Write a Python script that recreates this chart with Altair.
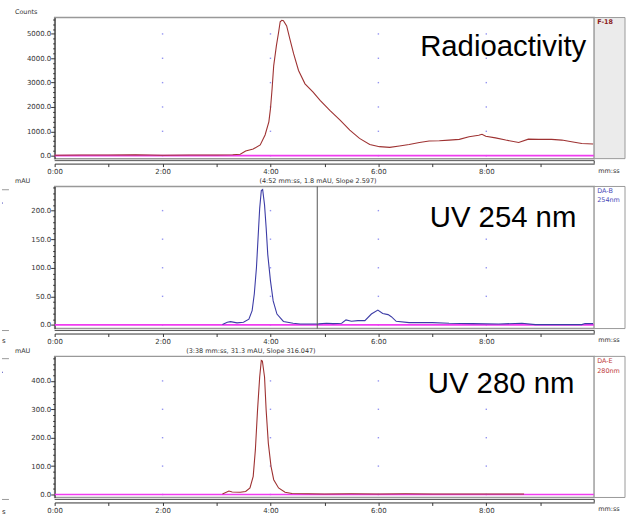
import altair as alt
import pandas as pd

FONT = "DejaVu Sans"
W = 543
H1, H2, H3 = 142, 143, 142

# ---------------- data (time in minutes) ----------------
rad_t = [0.0, 0.5, 1.0, 1.5, 2.0, 2.5, 3.0, 3.3, 3.44, 3.54, 3.68, 3.81, 3.90, 3.97, 4.00, 4.03,
         4.06, 4.11, 4.15, 4.18, 4.21, 4.24, 4.30, 4.36, 4.43, 4.52, 4.64, 4.79, 4.92, 5.10, 5.29,
         5.47, 5.65, 5.84, 6.02, 6.21, 6.39, 6.57, 6.76, 6.94, 7.13, 7.31, 7.50, 7.68, 7.86, 7.92,
         7.99, 8.17, 8.36, 8.60, 8.78, 8.97, 9.21, 9.40, 9.58, 9.77, 9.98]
rad_v = [20, 30, 25, 35, 20, 30, 25, 40, 60, 190, 270, 440, 850, 1390, 1930, 2750,
         3700, 4520, 5060, 5500, 5560, 5540, 5330, 4790, 4180, 3500, 2950, 2610, 2270, 1860, 1460,
         1050, 710, 460, 370, 340, 400, 460, 540, 600, 610, 640, 670, 780, 840, 880,
         800, 730, 640, 540, 680, 670, 670, 640, 570, 500, 480]

uv254_t = [3.11, 3.20, 3.26, 3.38, 3.50, 3.60, 3.66, 3.70, 3.74, 3.77, 3.80, 3.83, 3.855, 3.89,
           3.92, 3.95, 4.00, 4.05, 4.12, 4.24, 4.42, 4.55, 4.89, 5.04, 5.16, 5.32, 5.40, 5.50,
           5.62, 5.75, 5.87, 5.99, 6.08, 6.18, 6.24, 6.33, 6.57, 7.00, 7.31, 7.74, 8.23, 8.66,
           8.91, 9.77, 9.83, 9.98]
uv254_v = [0.5, 4.5, 5.7, 3.5, 4.5, 10, 25, 54, 100, 152, 204, 235, 237, 210,
           170, 123, 77, 42, 19, 6, 3, 1.5, 1.8, 2.8, 2.3, 2.8, 8.7, 6.3,
           7.5, 7.5, 19, 26, 20, 18, 14.4, 6.3, 4, 4, 2.8, 2.3, 1.7, 2.8,
           0.5, 0.5, 2.3, 2.3]

uv280_t = [3.11, 3.23, 3.29, 3.44, 3.54, 3.62, 3.68, 3.72, 3.76, 3.80, 3.83, 3.85, 3.89, 3.92,
           3.96, 4.01, 4.06, 4.15, 4.27, 4.40, 5.0, 5.5, 6.0, 6.5, 7.0, 7.5, 8.0, 8.4, 8.7]
uv280_v = [2, 12, 9, 8, 10.5, 23, 64, 157, 297, 414, 472, 470, 414, 297,
           181, 99, 52, 23, 8, 3.5, 2, 2.5, 2, 2.5, 2, 1.5, 1.5, 2, 1.5]

cursor_t = [4.867]          # 4:52 mm:ss
x_ticks = list(range(10))
grid_x = [2, 4, 6, 8]
grid_y1 = [0, 1000, 2000, 3000, 4000, 5000]
grid_y2 = [0, 50, 100, 150, 200]
grid_y3 = [0, 100, 200, 300, 400]

RED = "#9e3232"
BLUE = "#3c3ca6"
MAGENTA = "#f03cf0"
DOT = "#8a8af0"
AX = "#333333"

dummy = pd.DataFrame({"d": [0]})


def xenc():
    return alt.X("t:Q", scale=alt.Scale(domain=[0, 10], nice=False, zero=False),
                 axis=alt.Axis(values=x_ticks,
                               labelExpr="datum.value % 2 == 0 ? floor(datum.value) + ':00' : ''",
                               title=None, offset=5, grid=False, domainColor=AX, tickColor=AX,
                               tickSize=3, labelFont=FONT, labelFontSize=7, labelColor=AX,
                               labelPadding=1, labelFlush=False))


def yenc(dom, vals, major):
    return alt.Y("v:Q", scale=alt.Scale(domain=dom, nice=False, zero=False),
                 axis=alt.Axis(values=vals,
                               labelExpr=f"datum.value % {major} == 0 ? format(datum.value, '.1f') : ''",
                               tickSize={"condition": {"test": f"datum.value % {major} == 0", "value": 4}, "value": 2},
                               title=None, grid=False, domainColor=AX, tickColor=AX,
                               labelFont=FONT, labelFontSize=7, labelColor=AX, labelPadding=0,
                               labelFlush=False, labelOverlap=False))


def txt(s, x, y, size=6.5, color=AX, align="left", baseline="middle", weight="normal", font=FONT):
    return alt.Chart(dummy).mark_text(text=s, fontSize=size, color=color, align=align,
                                      baseline=baseline, fontWeight=weight, font=font).encode(
        x=alt.value(x), y=alt.value(y))


def hrule(x1, x2, y, color, width=1):
    return alt.Chart(dummy).mark_rule(color=color, strokeWidth=width).encode(
        x=alt.value(x1), x2=alt.value(x2), y=alt.value(y))


def vrule(x, y1, y2, color, width=1):
    return alt.Chart(dummy).mark_rule(color=color, strokeWidth=width).encode(
        x=alt.value(x), y=alt.value(y1), y2=alt.value(y2))


def panel(t, v, color, dom, yvals, major, gy, H, strip_fill, extras):
    X = xenc()
    Y = yenc(dom, yvals, major)
    dots_df = pd.DataFrame([{"t": a, "v": b} for a in grid_x for b in gy])
    dots = alt.Chart(dots_df).mark_square(size=2, color=DOT, opacity=0.9).encode(x=X, y=Y)
    base_df = pd.DataFrame({"t": [0], "t2": [10], "v": [0]})
    mag = alt.Chart(base_df).mark_rule(color=MAGENTA, strokeWidth=1.6).encode(x=X, x2="t2:Q", y=Y)
    trace = alt.Chart(pd.DataFrame({"t": t, "v": v})).mark_line(
        color=color, strokeWidth=1.1, interpolate="linear").encode(x=X, y=Y)
    strip = alt.Chart(dummy).mark_rect(fill=strip_fill, stroke="#999999", strokeWidth=1).encode(
        x=alt.value(W), x2=alt.value(W + 31), y=alt.value(0), y2=alt.value(H))
    ruler = [hrule(0, W, H + 2, "#555555"), vrule(W, H + 2, H + 5, AX)]
    mmss = txt("mm:ss", W + 4, H + 12, size=6.5)
    layers = [dots, mag, trace, strip] + ruler + [mmss] + extras
    return alt.layer(*layers).properties(width=W, height=H)


p1 = panel(rad_t, rad_v, RED, [-122, 5673], list(range(0, 5601, 200)), 1000, grid_y1, H1, "#ebebeb", [
    hrule(-53, -52, -15, "#ffffff", 0.1),
    txt("Counts", -40, -6),
    txt("F-18", W + 3, 5, size=6.5, color="#8b1a1a", weight="bold"),
    txt("Radioactivity", 535, 39, size=29.5, color="#000000", align="right",
        baseline="alphabetic", font="Liberation Sans"),
])

p2 = panel(uv254_t, uv254_v, BLUE, [-6.4, 242.3], list(range(0, 241, 10)), 50, grid_y2, H2, "#ffffff", [
    alt.Chart(pd.DataFrame({"t": cursor_t})).mark_rule(color="#555555", strokeWidth=1).encode(
        x=alt.X("t:Q", scale=alt.Scale(domain=[0, 10], nice=False, zero=False))),
    txt("mAU", -40, -5),
    txt("(4:52 mm:ss, 1.8 mAU, Slope 2.597)", 265, -5, align="center"),
    txt("DA-B", W + 3, 5, color="#4a4ab8"),
    txt("254nm", W + 3, 14, color="#4a4ab8"),
    txt("UV 254 nm", 525, 41, size=29.5, color="#000000", align="right",
        baseline="alphabetic", font="Liberation Sans"),
    hrule(-53, -46, 3.3, "#999999"),
    hrule(-53, -52, 16.7, "#4a4ab8"),
    hrule(-53, -46, 145, "#999999"),
    txt("s", -53, 156, size=7),
])

p3 = panel(uv280_t, uv280_v, RED, [-10.5, 486.4], list(range(0, 481, 20)), 100, grid_y3, H3, "#ffffff", [
    txt("mAU", -40, -5),
    txt("(3:38 mm:ss, 31.3 mAU, Slope 316.047)", 197.5, -5, align="center"),
    txt("DA-E", W + 3, 5, color="#c04040"),
    txt("280nm", W + 3, 15, color="#c04040"),
    txt("UV 280 nm", 523, 37.3, size=29.5, color="#000000", align="right",
        baseline="alphabetic", font="Liberation Sans"),
    hrule(-53, -46, 2.3, "#999999"),
    hrule(-53, -52, 16, "#4a4ab8"),
    hrule(-53, -46, 144, "#999999"),
    txt("s", -53, 156.7, size=7),
])

chart = alt.vconcat(p1, p2, p3, spacing=28, bounds="flush", padding=0).resolve_scale(
    x="independent", y="independent").configure_view(stroke="#999999", strokeWidth=1.5).properties(
    background="white")

chart.save("out.html", embed_options={"renderer": "svg", "actions": False})
